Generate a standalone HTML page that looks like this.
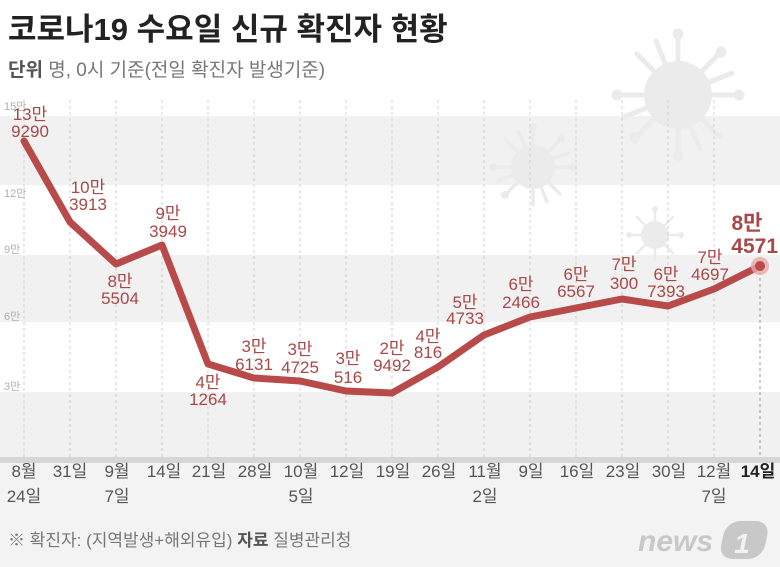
<!DOCTYPE html>
<html><head><meta charset="utf-8"><style>
html,body{margin:0;padding:0;background:#fff;}
svg{display:block;font-family:"Liberation Sans","Noto Sans CJK KR",sans-serif;}
</style></head><body>
<svg width="780" height="567" viewBox="0 0 780 567" xmlns="http://www.w3.org/2000/svg">
<rect width="780" height="567" fill="#fff"/>
<rect x="0" y="116" width="780" height="69" fill="#f1f1f1"/>
<rect x="0" y="255" width="780" height="67" fill="#f1f1f1"/>
<rect x="0" y="392" width="780" height="65" fill="#f1f1f1"/>
<rect x="0" y="463" width="780" height="104" fill="#f3f3f3"/>
<g fill="#ebebeb" stroke="#ebebeb" stroke-linecap="round">
 <g transform="translate(678,95)"><circle r="34" stroke="none"/>
  <g stroke-width="5"><line x1="0" y1="0" x2="0" y2="-58"/><line x1="0" y1="0" x2="0" y2="58"/><line x1="0" y1="0" x2="58" y2="0"/><line x1="0" y1="0" x2="-58" y2="0"/><line x1="0" y1="0" x2="41" y2="41"/><line x1="0" y1="0" x2="-41" y2="41"/><line x1="0" y1="0" x2="41" y2="-41"/><line x1="0" y1="0" x2="-41" y2="-41"/><line x1="0" y1="0" x2="54" y2="-22"/><line x1="0" y1="0" x2="-54" y2="22"/><line x1="0" y1="0" x2="22" y2="54"/><line x1="0" y1="0" x2="-22" y2="-54"/></g>
  <circle cx="0" cy="-61" r="5"/><circle cx="61" cy="0" r="5"/><circle cx="-61" cy="0" r="5"/><circle cx="0" cy="61" r="5"/><circle cx="43" cy="-43" r="5"/><circle cx="-43" cy="43" r="5"/></g>
 <g transform="translate(533,167)"><circle r="22" stroke="none"/>
  <g stroke-width="3.5"><line x2="0" y2="-38"/><line x2="0" y2="38"/><line x2="38" y2="0"/><line x2="-38" y2="0"/><line x2="27" y2="27"/><line x2="-27" y2="27"/><line x2="27" y2="-27"/><line x2="-27" y2="-27"/><line x2="35" y2="-14"/><line x2="-35" y2="14"/><line x2="14" y2="35"/><line x2="-14" y2="-35"/></g>
  <circle cy="-40" r="3.5"/><circle cx="40" r="3.5"/><circle cx="-40" r="3.5"/><circle cx="28" cy="-28" r="3.5"/><circle cx="-28" cy="28" r="3.5"/></g>
 <g transform="translate(655,235)"><circle r="14" stroke="none"/>
  <g stroke-width="2.5"><line x2="0" y2="-25"/><line x2="0" y2="25"/><line x2="25" y2="0"/><line x2="-25" y2="0"/><line x2="18" y2="18"/><line x2="-18" y2="18"/><line x2="18" y2="-18"/><line x2="-18" y2="-18"/></g>
  <circle cy="-26" r="2.5"/><circle cx="26" r="2.5"/><circle cx="-26" r="2.5"/></g>
</g>
<g stroke="#d0d0d0" stroke-width="1" stroke-dasharray="3,3">
<line x1="24" y1="100" x2="24" y2="457"/><line x1="70" y1="100" x2="70" y2="457"/><line x1="116" y1="100" x2="116" y2="457"/><line x1="162" y1="100" x2="162" y2="457"/><line x1="208" y1="100" x2="208" y2="457"/><line x1="254" y1="100" x2="254" y2="457"/><line x1="300" y1="100" x2="300" y2="457"/><line x1="346" y1="100" x2="346" y2="457"/><line x1="392" y1="100" x2="392" y2="457"/><line x1="438" y1="100" x2="438" y2="457"/><line x1="484" y1="100" x2="484" y2="457"/><line x1="530" y1="100" x2="530" y2="457"/><line x1="576" y1="100" x2="576" y2="457"/><line x1="622" y1="100" x2="622" y2="457"/><line x1="668" y1="100" x2="668" y2="457"/><line x1="714" y1="100" x2="714" y2="457"/><line x1="760" y1="266" x2="760" y2="457" stroke="#999"/>
</g>
<rect x="0" y="457" width="780" height="6" fill="#d6d6d6"/>
<g font-size="11" fill="#b0b0b0">
<text x="4" y="110">15만</text><text x="4" y="197">12만</text><text x="4" y="253">9만</text><text x="4" y="320">6만</text><text x="4" y="390">3만</text>
</g>
<polyline fill="none" stroke="#b94a4a" stroke-width="7" stroke-linejoin="round" stroke-linecap="round"
points="24,141 70,222 116,264 162,245 208,364 254,378 300,381 346,391 392,393 438,367 484,335 530,317 576,308 622,299 668,306 714,289 760,266"/>
<circle cx="760" cy="266" r="9" fill="#e9a8a8" opacity="0.8"/>
<circle cx="760" cy="266" r="5" fill="#b94a4a"/>
<g font-size="17" fill="#a94848" text-anchor="middle">
<text x="30" y="120">13만</text><text x="30" y="137">9290</text>
<text x="88" y="193">10만</text><text x="88" y="210">3913</text>
<text x="120" y="287">8만</text><text x="120" y="304">5504</text>
<text x="168" y="219">9만</text><text x="168" y="237">3949</text>
<text x="208" y="388">4만</text><text x="208" y="405">1264</text>
<text x="254" y="352">3만</text><text x="254" y="370">6131</text>
<text x="300" y="355">3만</text><text x="300" y="373">4725</text>
<text x="348" y="364">3만</text><text x="348" y="383">516</text>
<text x="392" y="354">2만</text><text x="392" y="371">9492</text>
<text x="428" y="342">4만</text><text x="428" y="358">816</text>
<text x="465" y="308">5만</text><text x="465" y="324">4733</text>
<text x="521" y="290">6만</text><text x="521" y="308">2466</text>
<text x="576" y="280">6만</text><text x="576" y="297">6567</text>
<text x="624" y="270">7만</text><text x="624" y="289">300</text>
<text x="666" y="280">6만</text><text x="666" y="297">7393</text>
<text x="710" y="263">7만</text><text x="710" y="280">4697</text>
<text x="747" y="230" font-size="21" font-weight="bold">8만</text>
<text x="778" y="253" font-size="21" font-weight="bold" text-anchor="end">4571</text>
</g>
<g font-size="17" fill="#555" text-anchor="middle">
<text x="24" y="477">8월</text><text x="24" y="502">24일</text>
<text x="70" y="477">31일</text>
<text x="117" y="477">9월</text><text x="117" y="502">7일</text>
<text x="164" y="477">14일</text><text x="209" y="477">21일</text><text x="255" y="477">28일</text>
<text x="301" y="477">10월</text><text x="301" y="502">5일</text>
<text x="347" y="477">12일</text><text x="393" y="477">19일</text><text x="439" y="477">26일</text>
<text x="485" y="477">11월</text><text x="485" y="502">2일</text>
<text x="531" y="477">9일</text><text x="577" y="477">16일</text><text x="623" y="477">23일</text><text x="669" y="477">30일</text>
<text x="714" y="477">12월</text><text x="714" y="502">7일</text>
<text x="758" y="477" font-weight="bold" fill="#222">14일</text>
</g>
<text x="8" y="40" font-size="31" font-weight="bold" fill="#222">코로나19 수요일 신규 확진자 현황</text>
<text x="8" y="76" font-size="19" fill="#777"><tspan font-weight="bold" fill="#555">단위</tspan> 명, 0시 기준(전일 확진자 발생기준)</text>
<text x="8" y="546" font-size="17" fill="#777">※ 확진자: (지역발생+해외유입)  <tspan font-weight="bold" fill="#555">자료</tspan> 질병관리청</text>
<g fill="#c8c8c8">
<text x="638" y="551" font-size="30" font-weight="bold" font-style="italic" fill="#c8c8c8">news</text>
<rect x="722" y="521" width="44" height="38" rx="14" transform="skewX(-12) translate(115,0)"/>
<text x="742" y="553" font-size="28" font-weight="bold" font-style="italic" fill="#f3f3f3" text-anchor="middle">1</text>
</g>
</svg>
</body></html>
